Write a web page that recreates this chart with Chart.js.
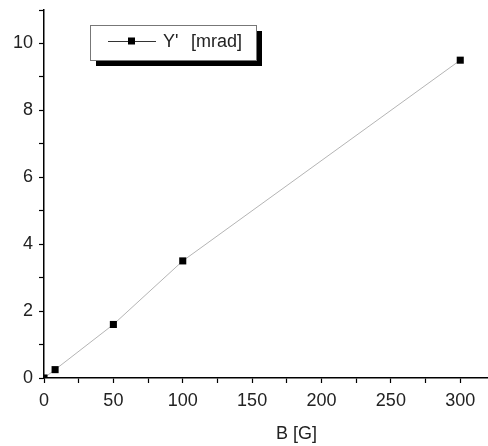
<!DOCTYPE html>
<html><head><meta charset="utf-8">
<script src="https://cdn.jsdelivr.net/npm/chart.js@4/dist/chart.umd.min.js"></script>
<style>html,body{margin:0;padding:0;background:#fff;}#wrap{width:488px;height:446px;position:relative;}</style>
</head><body><div id="wrap"><canvas id="c" width="488" height="446"></canvas></div>
<script>
const bValues = [0, 8, 50, 100, 300];
const yValues = [0, 0.25, 1.6, 3.5, 9.5];
const seriesName = "Y' [mrad]";
const xTitle = "B [G]";
const xMajorTicks = [0, 50, 100, 150, 200, 250, 300];
const yMajorTicks = [0, 2, 4, 6, 8, 10];

const FONT = "'Liberation Sans', Arial, sans-serif";

const legendPlugin = {
  id: 'boxLegend',
  afterDraw(chart) {
    const ctx = chart.ctx;
    const x = 90, y = 25, w = 166, h = 35, off = 6;
    ctx.save();
    ctx.fillStyle = '#000';
    ctx.fillRect(x + off, y + off, w, h);
    ctx.fillStyle = '#fff';
    ctx.fillRect(x, y, w, h);
    ctx.strokeStyle = '#777';
    ctx.lineWidth = 1;
    ctx.strokeRect(x + 0.5, y + 0.5, w, h);
    const cy = y + 16;
    ctx.strokeStyle = '#333';
    ctx.beginPath(); ctx.moveTo(108, cy + 0.5); ctx.lineTo(156, cy + 0.5); ctx.stroke();
    ctx.fillStyle = '#000';
    ctx.fillRect(128, cy - 3.5, 7, 7);
    ctx.fillStyle = '#222';
    ctx.font = '18px ' + FONT;
    ctx.textBaseline = 'middle';
    ctx.textAlign = 'left';
    const parts = seriesName.split(' ');
    ctx.fillText(parts[0], 163, cy + 1);
    ctx.fillText(parts.slice(1).join(' '), 191, cy + 1);
    const xs = chart.scales.x;
    ctx.textAlign = 'center';
    ctx.fillText(xTitle, xs.getPixelForValue(182), 434);
    ctx.restore();
  }
};

new Chart(document.getElementById('c'), {
  type: 'line',
  data: {
    datasets: [{
      label: seriesName,
      data: bValues.map((b, i) => ({x: b, y: yValues[i]})),
      borderColor: '#b4b4b4',
      borderWidth: 1,
      pointStyle: 'rect',
      pointRadius: 5,
      pointHoverRadius: 5,
      pointBackgroundColor: '#000',
      pointBorderWidth: 0,
      tension: 0
    }]
  },
  options: {
    responsive: false,
    animation: false,
    events: [],
    layout: {autoPadding: false, padding: {top: 10, right: 0, left: 0, bottom: 0}},
    plugins: {legend: {display: false}, tooltip: {enabled: false}},
    scales: {
      x: {
        type: 'linear', min: 0, max: 320,
        afterBuildTicks(s) { s.ticks = []; for (let v = 0; v <= 300; v += 25) s.ticks.push({value: v}); },
        afterFit(s) { s.height = 68; s.paddingLeft = 0; s.paddingRight = 0; },
        border: {display: true, color: '#000', width: 1.5},
        grid: {drawOnChartArea: false, drawTicks: true, tickLength: 5, color: '#000', tickWidth: 1.2},
        ticks: {
          padding: 7, color: '#222', font: {family: FONT, size: 18}, maxRotation: 0, autoSkip: false,
          callback: v => xMajorTicks.includes(v) ? String(v) : ''
        }
      },
      y: {
        type: 'linear', min: 0, max: 11,
        afterBuildTicks(s) { s.ticks = []; for (let v = 0; v <= 11; v += 1) s.ticks.push({value: v}); },
        afterFit(s) { s.width = 44; s.paddingTop = 0; s.paddingBottom = 0; },
        border: {display: true, color: '#000', width: 1.5},
        grid: {drawOnChartArea: false, drawTicks: true, tickLength: 5, color: '#000', tickWidth: 1.2},
        ticks: {
          padding: 6, color: '#222', font: {family: FONT, size: 18}, autoSkip: false,
          callback: v => yMajorTicks.includes(v) ? String(v) : ''
        }
      }
    }
  },
  plugins: [legendPlugin]
});
</script></body></html>
